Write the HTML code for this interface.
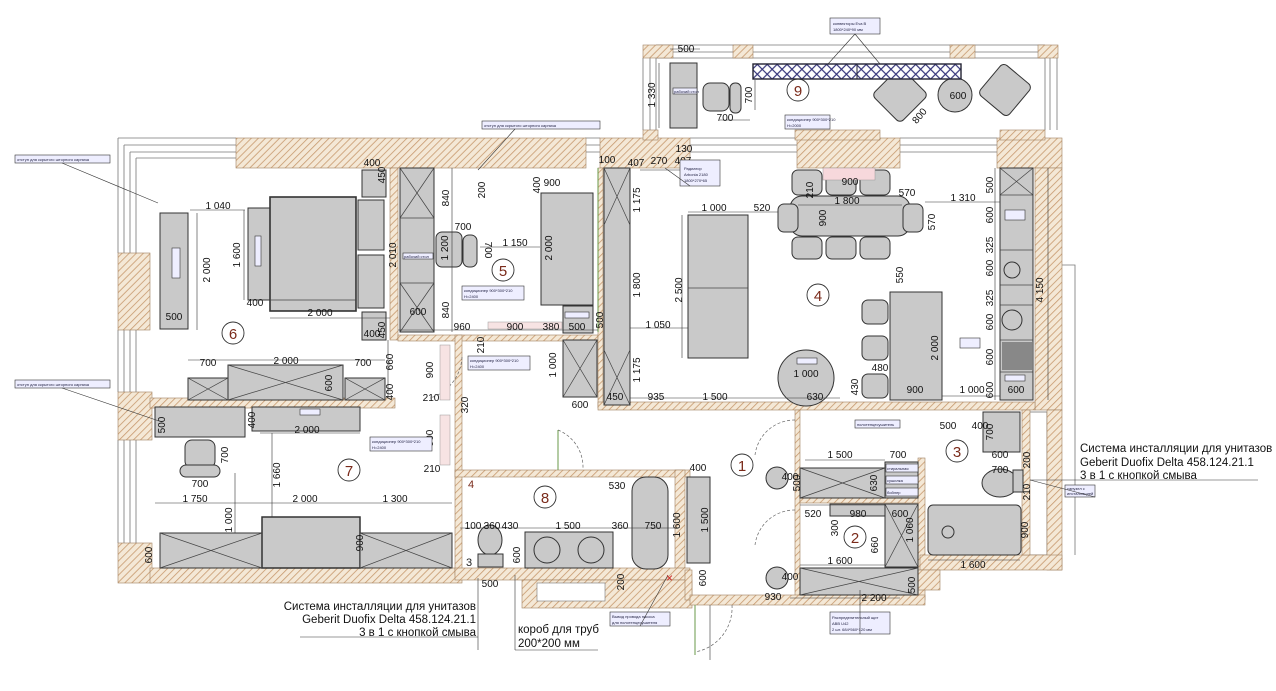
<!DOCTYPE html>
<html><head><meta charset="utf-8"><style>
html,body{margin:0;padding:0;background:#fff;}
svg{display:block;font-family:"Liberation Sans",Arial,sans-serif;}
</style></head><body>
<svg width="1276" height="691" viewBox="0 0 1276 691" xmlns="http://www.w3.org/2000/svg">
<defs>
<pattern id="h" width="5" height="5" patternUnits="userSpaceOnUse" patternTransform="rotate(45)">
<rect width="5" height="5" fill="#f4e8d6"/><line x1="0" y1="0" x2="0" y2="5" stroke="#c7996e" stroke-width="1.6"/></pattern>
<pattern id="net" width="7" height="7" patternUnits="userSpaceOnUse" patternTransform="rotate(45)">
<rect width="7" height="7" fill="#fff"/><rect width="7" height="7" fill="none" stroke="#33337a" stroke-width="1.2"/></pattern>
</defs>
<rect width="1276" height="691" fill="#fff"/>

<!-- windows / outer lines -->
<g fill="none" stroke="#777" stroke-width="0.8">
<path d="M118 138 H236 M124 145 H236 M130 152 H236 M136 158 H236"/>
<path d="M118 138 V253 M124 145 V253 M130 152 V253 M136 158 V253"/>
<path d="M118 330 V392 M124 330 V392 M130 330 V392 M136 330 V392"/>
<path d="M118 440 V543 M124 440 V543 M130 440 V543 M136 440 V543"/>
<path d="M585 138 H600 M585 145 H600 M585 152 H600"/>
<path d="M690 138 H797 M690 145 H797 M690 152 H797"/>
<path d="M900 138 H997 M900 145 H997 M900 152 H997"/>
<path d="M656 45 H1045 M656 52 H1045 M656 58 H1045"/>
<path d="M643 58 V130 M650 58 V130 M656 58 V130"/>
<path d="M1045 58 V130 M1050 58 V130 M1057 58 V130"/>
<rect x="1028" y="412" width="19" height="143"/>
<path d="M1062 265 H1075 V555"/>
</g>

<!-- walls hatched -->
<g fill="url(#h)" stroke="#a08060" stroke-width="0.6">
<rect x="236" y="138" width="350" height="30"/>
<rect x="600" y="138" width="90" height="30"/>
<rect x="797" y="138" width="103" height="30"/>
<rect x="997" y="138" width="65" height="30"/>
<rect x="1035" y="168" width="27" height="242"/>
<rect x="1047" y="410" width="15" height="160"/>
<rect x="118" y="253" width="32" height="77"/>
<rect x="118" y="392" width="34" height="48"/>
<rect x="118" y="543" width="34" height="40"/>
<rect x="150" y="568" width="312" height="15"/>
<rect x="150" y="398" width="245" height="10"/>
<rect x="390" y="168" width="8" height="172"/>
<rect x="398" y="335" width="200" height="6"/>
<rect x="598" y="168" width="5" height="240"/>
<rect x="598" y="402" width="437" height="8"/>
<rect x="455" y="335" width="7" height="240"/>
<rect x="455" y="470" width="235" height="7"/>
<rect x="675" y="470" width="10" height="100"/>
<rect x="455" y="568" width="235" height="12"/>
<rect x="522" y="580" width="170" height="28"/>
<rect x="685" y="570" width="7" height="30"/>
<rect x="795" y="410" width="5" height="190"/>
<rect x="800" y="497" width="120" height="6"/>
<rect x="918" y="458" width="7" height="142"/>
<rect x="690" y="595" width="235" height="10"/>
<rect x="920" y="555" width="142" height="15"/>
<rect x="900" y="570" width="40" height="20"/>
<rect x="1022" y="410" width="8" height="145"/>
<rect x="643" y="45" width="30" height="13"/>
<rect x="733" y="45" width="20" height="13"/>
<rect x="950" y="45" width="25" height="13"/>
<rect x="1038" y="45" width="20" height="13"/>
<rect x="643" y="130" width="15" height="10"/>
<rect x="795" y="130" width="85" height="10"/>
<rect x="1000" y="130" width="45" height="10"/>
</g>
<rect x="537" y="583" width="68" height="18" fill="#fff" stroke="#777" stroke-width="0.6"/>

<!-- furniture -->
<g fill="#c9c9c9" stroke="#333" stroke-width="1">
<!-- room 6 -->
<rect x="160" y="213" width="28" height="116"/>
<rect x="248" y="208" width="22" height="92"/>
<rect x="270" y="197" width="86" height="114" stroke-width="1.6"/>
<rect x="358" y="200" width="26" height="50"/><rect x="358" y="255" width="26" height="53"/>
<rect x="362" y="170" width="24" height="27"/><rect x="362" y="312" width="24" height="28"/>
<rect x="188" y="378" width="40" height="22"/><rect x="228" y="365" width="115" height="35"/><rect x="345" y="378" width="40" height="22"/>
<!-- room 5 -->
<rect x="400" y="168" width="34" height="164"/>
<rect x="436" y="232" width="26" height="35" rx="6"/><rect x="463" y="235" width="14" height="32" rx="6"/>
<rect x="541" y="193" width="52" height="112"/>
<rect x="563" y="306" width="30" height="27"/>
<rect x="563" y="340" width="34" height="57"/>
<rect x="604" y="168" width="26" height="237"/>
<!-- room 4 -->
<rect x="688" y="215" width="60" height="143"/>
<rect x="790" y="196" width="120" height="40" rx="12"/>
<rect x="792" y="170" width="30" height="25" rx="6"/><rect x="826" y="170" width="30" height="25" rx="6"/><rect x="860" y="170" width="30" height="25" rx="6"/>
<rect x="792" y="237" width="30" height="22" rx="6"/><rect x="826" y="237" width="30" height="22" rx="6"/><rect x="860" y="237" width="30" height="22" rx="6"/>
<rect x="778" y="204" width="20" height="28" rx="6"/><rect x="903" y="204" width="20" height="28" rx="6"/>
<rect x="890" y="292" width="52" height="108"/>
<rect x="862" y="300" width="26" height="24" rx="6"/><rect x="862" y="336" width="26" height="24" rx="6"/><rect x="862" y="374" width="26" height="24" rx="6"/>
<circle cx="806" cy="378" r="28"/>
<rect x="1000" y="168" width="33" height="232"/>
<!-- room 7 -->
<rect x="155" y="407" width="90" height="30"/>
<rect x="252" y="407" width="108" height="24"/>
<rect x="185" y="440" width="30" height="28" rx="7"/><rect x="180" y="465" width="40" height="12" rx="6"/>
<rect x="160" y="533" width="102" height="35"/><rect x="262" y="517" width="98" height="51" stroke-width="1.5"/><rect x="360" y="533" width="92" height="35"/>
<!-- room 8 -->
<ellipse cx="490" cy="540" rx="12" ry="15"/><rect x="478" y="554" width="25" height="13"/>
<rect x="525" y="532" width="88" height="36"/>
<rect x="632" y="477" width="36" height="92" rx="14"/>
<rect x="687" y="477" width="23" height="86"/>
<!-- 1,2,3 -->
<circle cx="777" cy="478" r="11"/><circle cx="777" cy="578" r="11"/>
<rect x="800" y="468" width="85" height="30"/>
<rect x="885" y="462" width="33" height="36"/>
<rect x="830" y="504" width="60" height="12"/>
<rect x="885" y="504" width="33" height="63"/>
<rect x="800" y="568" width="118" height="27"/>
<rect x="928" y="505" width="93" height="50" rx="5"/>
<rect x="983" y="412" width="37" height="40"/>
<ellipse cx="1000" cy="483" rx="18" ry="14"/><rect x="1013" y="470" width="10" height="22"/>
<!-- balcony -->
<rect x="670" y="63" width="27" height="65"/>
<rect x="703" y="83" width="26" height="28" rx="7"/><rect x="730" y="83" width="11" height="30" rx="5"/>
<rect x="880" y="75" width="40" height="40" rx="5" transform="rotate(45 900 95)"/>
<circle cx="955" cy="95" r="17"/>
<rect x="986" y="70" width="38" height="40" rx="5" transform="rotate(40 1005 90)"/>
</g>
<rect x="753" y="64" width="208" height="15" fill="url(#net)" stroke="#223" stroke-width="1.4"/>
<line x1="857" y1="64" x2="857" y2="79" stroke="#223"/>

<!-- crosses in boxes -->
<g stroke="#444" stroke-width="0.7" fill="none">
<path d="M400 168 L434 218 M434 168 L400 218 M400 283 L434 332 M434 283 L400 332"/>
<path d="M604 168 L630 225 M630 168 L604 225 M604 350 L630 405 M630 350 L604 405"/>
<path d="M563 340 L597 397 M597 340 L563 397"/>
<path d="M188 378 L228 400 M228 378 L188 400 M228 365 L343 400 M343 365 L228 400 M345 378 L385 400 M385 378 L345 400"/>
<path d="M160 533 L262 568 M262 533 L160 568 M360 533 L452 568 M452 533 L360 568"/>
<path d="M800 468 L885 498 M885 468 L800 498 M885 504 L918 567 M918 504 L885 567 M800 568 L918 595 M918 568 L800 595"/>
<path d="M1000 168 L1033 195 M1033 168 L1000 195"/>
<path d="M358 250 H384 M270 300 L356 300"/>
<line x1="1000" y1="195" x2="1033" y2="195"/><line x1="1000" y1="250" x2="1033" y2="250"/><line x1="1000" y1="285" x2="1033" y2="285"/><line x1="1000" y1="305" x2="1033" y2="305"/><line x1="1000" y1="340" x2="1033" y2="340"/><line x1="1000" y1="372" x2="1033" y2="372"/>
<line x1="688" y1="288" x2="748" y2="288"/>
<path d="M400 218 H434 M400 283 H434"/>
</g>
<circle cx="1012" cy="270" r="8" fill="none" stroke="#333"/><circle cx="1012" cy="320" r="10" fill="none" stroke="#333"/>
<rect x="1002" y="342" width="30" height="28" fill="#888"/>
<circle cx="547" cy="550" r="13" fill="none" stroke="#333"/><circle cx="591" cy="550" r="13" fill="none" stroke="#333"/>
<circle cx="948" cy="532" r="6" fill="none" stroke="#333"/>

<!-- doors -->
<g fill="none" stroke="#666" stroke-width="0.7" stroke-dasharray="3 2">
<path d="M462 357 A 45 45 0 0 1 430 398"/>
<path d="M558 430 A 40 40 0 0 1 583 468"/>
<path d="M795 420 A 40 40 0 0 0 755 455"/>
<path d="M795 510 A 40 40 0 0 0 755 545"/>
<path d="M732 605 A 45 45 0 0 1 695 652"/>
</g>
<g stroke="#6a9a4a" stroke-width="1" fill="none">
<line x1="558" y1="430" x2="558" y2="470"/><line x1="695" y1="605" x2="695" y2="655"/>
<line x1="598" y1="168" x2="598" y2="332"/>
</g>
<rect x="440" y="345" width="10" height="55" fill="#f7e3e3" stroke="#999" stroke-width="0.5"/>
<rect x="440" y="415" width="10" height="50" fill="#f7e3e3" stroke="#999" stroke-width="0.5"/>
<rect x="488" y="322" width="74" height="7" fill="#f7e3e3" stroke="#999" stroke-width="0.5"/>
<rect x="823" y="168" width="52" height="12" fill="#f7d8dc" stroke="#999" stroke-width="0.5"/>

<!-- dimension lines -->
<g stroke="#333" stroke-width="0.6">
<line x1="190" y1="210" x2="245" y2="210"/><line x1="197" y1="213" x2="197" y2="330"/>
<line x1="244" y1="210" x2="244" y2="300"/><line x1="270" y1="318" x2="390" y2="318"/>
<line x1="188" y1="360" x2="385" y2="360"/><line x1="388" y1="340" x2="388" y2="398"/>
<line x1="452" y1="168" x2="452" y2="332"/><line x1="480" y1="247" x2="540" y2="247"/>
<line x1="398" y1="330" x2="598" y2="330"/><line x1="630" y1="168" x2="630" y2="405"/>
<line x1="630" y1="328" x2="688" y2="328"/><line x1="682" y1="215" x2="682" y2="358"/>
<line x1="688" y1="212" x2="748" y2="212"/><line x1="748" y1="212" x2="778" y2="212"/>
<line x1="798" y1="205" x2="902" y2="205"/><line x1="925" y1="202" x2="1000" y2="202"/>
<line x1="630" y1="398" x2="840" y2="398"/><line x1="942" y1="396" x2="1000" y2="396"/>
<line x1="1048" y1="168" x2="1048" y2="400"/><line x1="995" y1="168" x2="995" y2="400"/>
<line x1="245" y1="437" x2="245" y2="410"/><line x1="260" y1="433" x2="360" y2="433"/>
<line x1="272" y1="433" x2="272" y2="517"/><line x1="155" y1="503" x2="452" y2="503"/>
<line x1="235" y1="473" x2="235" y2="533"/><line x1="460" y1="528" x2="675" y2="528"/>
<line x1="805" y1="460" x2="885" y2="460"/><line x1="800" y1="505" x2="885" y2="505"/>
<line x1="800" y1="565" x2="885" y2="565"/><line x1="790" y1="598" x2="900" y2="598"/>
<line x1="928" y1="560" x2="1020" y2="560"/><line x1="670" y1="49" x2="700" y2="49"/>
<line x1="659" y1="63" x2="659" y2="128"/><line x1="720" y1="120" x2="750" y2="120"/>
<line x1="755" y1="80" x2="755" y2="110"/>
<line x1="640" y1="170" x2="700" y2="170"/>
<line x1="1030" y1="480" x2="1258" y2="480"/>
<line x1="478" y1="578" x2="478" y2="650"/><line x1="300" y1="637" x2="478" y2="637"/>
<line x1="515" y1="575" x2="515" y2="650"/><line x1="515" y1="650" x2="598" y2="650"/>
<line x1="710" y1="605" x2="710" y2="660"/>
</g>

<!-- room numbers -->
<g fill="none" stroke="#333" stroke-width="0.9">
<circle cx="233" cy="333" r="11"/><circle cx="503" cy="270" r="11"/><circle cx="818" cy="295" r="11"/>
<circle cx="349" cy="470" r="11"/><circle cx="545" cy="497" r="11"/><circle cx="742" cy="465" r="11"/>
<circle cx="855" cy="537" r="11"/><circle cx="957" cy="451" r="11"/><circle cx="798" cy="90" r="11"/>
</g>
<g fill="#7a2a1a" font-size="15" text-anchor="middle">
<text x="233" y="339">6</text><text x="503" y="276">5</text><text x="818" y="301">4</text>
<text x="349" y="476">7</text><text x="545" y="503">8</text><text x="742" y="471">1</text>
<text x="855" y="543">2</text><text x="957" y="457">3</text><text x="798" y="96">9</text>
</g>
<text x="468" y="488" font-size="11" fill="#7a2a1a">4</text>
<text x="466" y="566" font-size="11" fill="#222">3</text>

<!-- dimension texts -->
<g font-size="10" fill="#111" text-anchor="middle">
<text x="218" y="209">1 040</text><text x="174" y="320">500</text><text x="372" y="166">400</text>
<text x="255" y="306">400</text><text x="320" y="316">2 000</text><text x="372" y="337">400</text>
<text x="208" y="366">700</text><text x="286" y="364">2 000</text><text x="363" y="366">700</text>
<text x="418" y="315">600</text><text x="463" y="230">700</text><text x="515" y="246">1 150</text>
<text x="552" y="186">900</text><text x="462" y="330">960</text><text x="515" y="330">900</text><text x="551" y="330">380</text><text x="577" y="330">500</text>
<text x="607" y="163">100</text><text x="636" y="166">407</text><text x="659" y="164">270</text><text x="683" y="164">407</text><text x="684" y="152">130</text>
<text x="714" y="211">1 000</text><text x="762" y="211">520</text><text x="847" y="204">1 800</text><text x="850" y="185">900</text><text x="907" y="196">570</text>
<text x="963" y="201">1 310</text><text x="658" y="328">1 050</text><text x="806" y="377">1 000</text>
<text x="615" y="400">450</text><text x="656" y="400">935</text><text x="715" y="400">1 500</text><text x="815" y="400">630</text>
<text x="880" y="371">480</text><text x="915" y="393">900</text><text x="972" y="393">1 000</text><text x="1016" y="393">600</text>
<text x="580" y="408">600</text><text x="431" y="401">210</text><text x="432" y="472">210</text>
<text x="200" y="487">700</text><text x="195" y="502">1 750</text><text x="305" y="502">2 000</text><text x="395" y="502">1 300</text><text x="307" y="433">2 000</text>
<text x="490" y="587">500</text><text x="473" y="529">100</text><text x="492" y="529">360</text><text x="510" y="529">430</text>
<text x="568" y="529">1 500</text><text x="620" y="529">360</text><text x="653" y="529">750</text><text x="617" y="489">530</text><text x="698" y="471">400</text>
<text x="840" y="458">1 500</text><text x="898" y="458">700</text><text x="813" y="517">520</text><text x="858" y="517">980</text><text x="900" y="517">600</text>
<text x="840" y="564">1 600</text><text x="874" y="601">2 200</text><text x="773" y="600">930</text><text x="973" y="568">1 600</text>
<text x="948" y="429">500</text><text x="980" y="429">400</text><text x="1000" y="458">600</text><text x="1000" y="473">700</text>
<text x="686" y="52">500</text><text x="725" y="121">700</text><text x="958" y="99">600</text><text x="690" y="152"></text>
<text x="790" y="480">400</text><text x="790" y="580">400</text>
</g>
<g font-size="10" fill="#111" text-anchor="middle">
<text transform="translate(210 270) rotate(-90)">2 000</text>
<text transform="translate(240 255) rotate(-90)">1 600</text>
<text transform="translate(396 255) rotate(-90)">2 010</text>
<text transform="translate(385 175) rotate(-90)">450</text>
<text transform="translate(385 330) rotate(-90)">450</text>
<text transform="translate(449 198) rotate(-90)">840</text>
<text transform="translate(449 310) rotate(-90)">840</text>
<text transform="translate(448 248) rotate(-90)">1 200</text>
<text transform="translate(485 250) rotate(90)">700</text>
<text transform="translate(485 190) rotate(-90)">200</text>
<text transform="translate(540 185) rotate(-90)">400</text>
<text transform="translate(552 248) rotate(-90)">2 000</text>
<text transform="translate(603 320) rotate(-90)">500</text>
<text transform="translate(640 200) rotate(-90)">1 175</text>
<text transform="translate(640 285) rotate(-90)">1 800</text>
<text transform="translate(640 370) rotate(-90)">1 175</text>
<text transform="translate(556 365) rotate(-90)">1 000</text>
<text transform="translate(682 290) rotate(-90)">2 500</text>
<text transform="translate(826 218) rotate(-90)">900</text>
<text transform="translate(813 190) rotate(-90)">210</text>
<text transform="translate(935 222) rotate(-90)">570</text>
<text transform="translate(903 275) rotate(-90)">550</text>
<text transform="translate(938 348) rotate(-90)">2 000</text>
<text transform="translate(858 387) rotate(-90)">430</text>
<text transform="translate(993 185) rotate(-90)">500</text>
<text transform="translate(993 215) rotate(-90)">600</text>
<text transform="translate(993 245) rotate(-90)">325</text>
<text transform="translate(993 268) rotate(-90)">600</text>
<text transform="translate(993 298) rotate(-90)">325</text>
<text transform="translate(993 322) rotate(-90)">600</text>
<text transform="translate(993 357) rotate(-90)">600</text>
<text transform="translate(993 390) rotate(-90)">600</text>
<text transform="translate(1043 290) rotate(-90)">4 150</text>
<text transform="translate(393 362) rotate(-90)">660</text>
<text transform="translate(393 392) rotate(-90)">400</text>
<text transform="translate(332 383) rotate(-90)">600</text>
<text transform="translate(433 370) rotate(-90)">900</text>
<text transform="translate(484 345) rotate(-90)">210</text>
<text transform="translate(468 405) rotate(-90)">320</text>
<text transform="translate(433 438) rotate(-90)">900</text>
<text transform="translate(255 420) rotate(-90)">400</text>
<text transform="translate(165 425) rotate(-90)">500</text>
<text transform="translate(228 455) rotate(-90)">700</text>
<text transform="translate(280 475) rotate(-90)">1 660</text>
<text transform="translate(232 520) rotate(-90)">1 000</text>
<text transform="translate(152 555) rotate(-90)">600</text>
<text transform="translate(363 543) rotate(-90)">900</text>
<text transform="translate(520 555) rotate(-90)">600</text>
<text transform="translate(624 582) rotate(-90)">200</text>
<text transform="translate(680 525) rotate(-90)">1 600</text>
<text transform="translate(708 520) rotate(-90)">1 500</text>
<text transform="translate(706 578) rotate(-90)">600</text>
<text transform="translate(800 483) rotate(-90)">500</text>
<text transform="translate(877 483) rotate(-90)">630</text>
<text transform="translate(838 528) rotate(-90)">300</text>
<text transform="translate(878 545) rotate(-90)">660</text>
<text transform="translate(913 530) rotate(-90)">1 060</text>
<text transform="translate(915 585) rotate(-90)">500</text>
<text transform="translate(1030 460) rotate(-90)">200</text>
<text transform="translate(1030 492) rotate(-90)">210</text>
<text transform="translate(1028 530) rotate(-90)">900</text>
<text transform="translate(993 432) rotate(-90)">700</text>
<text transform="translate(655 95) rotate(-90)">1 330</text>
<text transform="translate(752 95) rotate(-90)">700</text>
<text transform="translate(922 118) rotate(-50)">800</text>
</g>

<!-- small label boxes -->
<g fill="#eef" stroke="#333" stroke-width="0.6">
<rect x="15" y="155" width="95" height="8"/><rect x="15" y="380" width="95" height="8"/>
<rect x="482" y="121" width="118" height="8"/><rect x="830" y="18" width="50" height="16"/>
<rect x="680" y="160" width="40" height="26"/><rect x="785" y="115" width="45" height="14"/>
<rect x="462" y="286" width="62" height="14"/><rect x="468" y="356" width="62" height="14"/>
<rect x="370" y="437" width="62" height="14"/><rect x="855" y="420" width="45" height="8"/>
<rect x="1065" y="485" width="30" height="12"/><rect x="830" y="612" width="60" height="22"/>
<rect x="610" y="612" width="60" height="14"/>
<rect x="403" y="253" width="30" height="6"/><rect x="172" y="248" width="8" height="30"/>
<rect x="255" y="236" width="6" height="30"/><rect x="565" y="312" width="24" height="6"/>
<rect x="1005" y="210" width="20" height="10"/><rect x="1005" y="375" width="20" height="6"/>
<rect x="300" y="409" width="20" height="6"/><rect x="797" y="358" width="20" height="6"/>
<rect x="673" y="88" width="24" height="6"/><rect x="886" y="464" width="32" height="8"/>
<rect x="886" y="476" width="32" height="8"/><rect x="886" y="488" width="32" height="8"/>
<rect x="960" y="338" width="20" height="10"/>
</g>
<g font-size="4" fill="#224" >
<text x="17" y="161">отступ для скрытого шторного карниза</text>
<text x="17" y="386">отступ для скрытого шторного карниза</text>
<text x="484" y="127">отступ для скрытого шторного карниза</text>
<text x="833" y="25">конвекторы Eva B</text><text x="833" y="31">1800*240*90 мм</text>
<text x="684" y="170">Радиатор</text><text x="684" y="176">Arbonia 2180</text><text x="684" y="182">1800*270*65</text>
<text x="787" y="121">кондиционер 900*300*210</text><text x="787" y="127">H=2000</text>
<text x="464" y="292">кондиционер 900*300*210</text><text x="464" y="298">H=2400</text>
<text x="470" y="362">кондиционер 900*300*210</text><text x="470" y="368">H=2400</text>
<text x="372" y="443">кондиционер 900*300*210</text><text x="372" y="449">H=2400</text>
<text x="857" y="426">полотенцесушитель</text><text x="1067" y="490">санузел с</text><text x="1067" y="495">инсталляцией</text>
<text x="832" y="619">Распределительный щит</text><text x="832" y="625">ABB U42</text><text x="832" y="631">2 шт. 684*560*120 мм</text>
<text x="612" y="618">Вывод провода насоса</text><text x="612" y="624">для полотенцесушителя</text>
<text x="404" y="258">рабочий стол</text><text x="674" y="93">рабочий стол</text>
<text x="887" y="470">стиральная</text><text x="887" y="482">сушилка</text><text x="887" y="494">бойлер</text>
</g>
<g stroke="#333" stroke-width="0.6" fill="none">
<path d="M62 163 L158 203"/><path d="M62 388 L162 422"/><path d="M515 129 L478 170"/>
<path d="M855 34 L828 64 M855 34 L880 64"/><path d="M690 186 L665 168"/>
<path d="M1095 497 L1030 480"/><path d="M860 634 L860 590"/><path d="M640 626 L668 575"/>
</g>
<text x="666" y="582" font-size="12" fill="#c22">×</text>

<!-- annotations -->
<g font-size="11.5" fill="#111">
<text x="1080" y="452">Система инсталляции для унитазов</text>
<text x="1080" y="466">Geberit Duofix Delta 458.124.21.1</text>
<text x="1080" y="479">3 в 1 с кнопкой смыва</text>
</g>
<g font-size="11.5" fill="#111" text-anchor="end">
<text x="476" y="610">Система инсталляции для унитазов</text>
<text x="476" y="623">Geberit Duofix Delta 458.124.21.1</text>
<text x="476" y="636">3 в 1 с кнопкой смыва</text>
</g>
<g font-size="11.5" fill="#111">
<text x="518" y="633">короб для труб</text>
<text x="518" y="647">200*200 мм</text>
</g>
</svg>
</body></html>
